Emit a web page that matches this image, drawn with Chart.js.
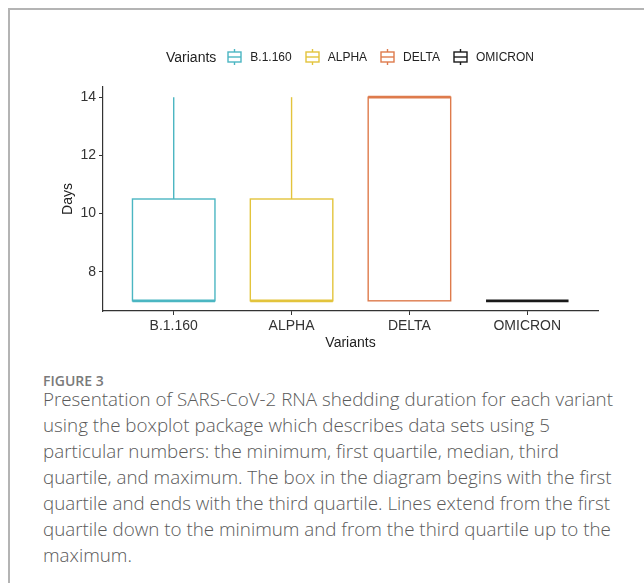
<!DOCTYPE html>
<html>
<head>
<meta charset="utf-8">
<script src="https://cdn.jsdelivr.net/npm/chart.js@4.4.0/dist/chart.umd.min.js"></script>
<style>
  body { margin: 0; background: #fff; width: 644px; height: 583px; overflow: hidden; position: relative; }
  .frame { position: absolute; left: 8px; top: 8px; width: 640px; height: 580px; border-top: 2px solid #b4b4b4; border-left: 2px solid #b4b4b4; }
  .chart-box { position: absolute; left: 0; top: 0; width: 644px; height: 370px; }
  .legenda { position: absolute; top: 49px; left: 0; width: 700px; display: flex; justify-content: center; align-items: center;
             font-family: "Liberation Sans", Arial, sans-serif; color: #222; }
  .legenda .titulo { font-size: 14px; margin-right: 11px; }
  .legenda .item { display: flex; align-items: center; font-size: 12px; margin-right: 13px; }
  .legenda .item svg { margin-right: 8px; }
  .legenda .item:last-child { margin-right: 0; }
  .fig { position: absolute; left: 43px; top: 371px; font-family: "Open Sans", sans-serif; font-size: 14px; font-weight: 600; color: #7a7a7a; }
  .legenda-fig { position: absolute; left: 43px; top: 386px; white-space: nowrap; font-family: "Open Sans", sans-serif; font-weight: 300; font-size: 18.8px; line-height: 26px; color: #5a5a5a; }
</style>
</head>
<body>
<div class="frame"></div>
<div class="chart-box"><canvas id="grafico"></canvas></div>
<div class="legenda" id="legenda"><span class="titulo">Variants</span></div>
<div class="fig">FIGURE 3</div>
<div class="legenda-fig">Presentation of SARS-CoV-2 RNA shedding duration for each variant<br>using the boxplot package which describes data sets using 5<br>particular numbers: the minimum, first quartile, median, third<br>quartile, and maximum. The box in the diagram begins with the first<br>quartile and ends with the third quartile. Lines extend from the first<br>quartile down to the minimum and from the third quartile up to the<br>maximum.</div>

<script>
// dados (dias)
const variantes = ['B.1.160', 'ALPHA', 'DELTA', 'OMICRON'];
const minimos = [7, 7, 7, 7];
const q1 = [7, 7, 7, 7];
const medianas = [7, 7, 14, 7];
const q3 = [10.5, 10.5, 14, 7];
const maximos = [14, 14, 14, 7];
const cores = ['#4bb6c2', '#e3c43c', '#de7b4c', '#1a1a1a'];
const ticksY = [8, 10, 12, 14];

// legenda em html com o simbolo do boxplot
const legenda = document.getElementById('legenda');
variantes.forEach((nome, i) => {
    const item = document.createElement('span');
    item.className = 'item';
    item.innerHTML = `<svg width="15" height="16" viewBox="0 0 15 16">
        <line x1="7.5" y1="0" x2="7.5" y2="3" stroke="${cores[i]}" stroke-width="1.4"/>
        <rect x="1" y="3" width="13" height="10" fill="none" stroke="${cores[i]}" stroke-width="1.4"/>
        <line x1="1" y1="8" x2="14" y2="8" stroke="${cores[i]}" stroke-width="1.4"/>
        <line x1="7.5" y1="13" x2="7.5" y2="16" stroke="${cores[i]}" stroke-width="1.4"/>
    </svg>${nome}`;
    legenda.appendChild(item);
});

const larguraCaixa = 0.7;

const boxplot = {
    id: 'boxplot',
    afterDatasetsDraw(chart) {
        const ctx = chart.ctx;
        const x = chart.scales.x;
        const y = chart.scales.y;
        variantes.forEach((nome, i) => {
            const xc = x.getPixelForValue(i);
            const xl = x.getPixelForValue(i - larguraCaixa / 2);
            const xr = x.getPixelForValue(i + larguraCaixa / 2);
            const yMin = y.getPixelForValue(minimos[i]);
            const yQ1 = y.getPixelForValue(q1[i]);
            const yMed = y.getPixelForValue(medianas[i]);
            const yQ3 = y.getPixelForValue(q3[i]);
            const yMax = y.getPixelForValue(maximos[i]);
            ctx.save();
            ctx.strokeStyle = cores[i];
            ctx.lineWidth = 1.4;
            // bigodes
            ctx.beginPath();
            ctx.moveTo(xc, yQ3); ctx.lineTo(xc, yMax);
            ctx.moveTo(xc, yQ1); ctx.lineTo(xc, yMin);
            ctx.stroke();
            // caixa
            if (q3[i] > q1[i]) {
                ctx.strokeRect(xl, yQ3, xr - xl, yQ1 - yQ3);
            }
            // mediana
            ctx.lineWidth = 2.8;
            ctx.beginPath();
            ctx.moveTo(xl, yMed); ctx.lineTo(xr, yMed);
            ctx.stroke();
            ctx.restore();
        });
    }
};

const fonte = { family: '"Liberation Sans", Arial, sans-serif', size: 14 };

new Chart(document.getElementById('grafico'), {
    type: 'scatter',
    data: { datasets: [] },
    options: {
        responsive: true,
        maintainAspectRatio: false,
        animation: false,
        layout: { padding: { top: 87, left: 43, right: 46, bottom: 11 } },
        plugins: { legend: { display: false }, tooltip: { enabled: false } },
        scales: {
            x: {
                type: 'linear',
                min: -0.6,
                max: 3.6,
                afterBuildTicks: s => { s.ticks = variantes.map((v, i) => ({ value: i })); },
                afterFit: s => { s.height = 48; },
                ticks: { color: '#333', font: fonte, padding: 3, maxRotation: 0,
                         callback: v => variantes[v] },
                grid: { drawOnChartArea: false, drawTicks: true, tickLength: 4, color: '#333' },
                border: { display: true, color: '#333', width: 1.2 },
                title: { display: true, text: 'Variants', color: '#222', font: fonte, padding: { top: 0, bottom: 7 } }
            },
            y: {
                min: 6.65,
                max: 14.35,
                afterBuildTicks: s => { s.ticks = ticksY.map(v => ({ value: v })); },
                afterFit: s => { s.width = 60; },
                ticks: { color: '#333', font: fonte, padding: 3 },
                grid: { drawOnChartArea: false, drawTicks: true, tickLength: 4, color: '#333' },
                border: { display: true, color: '#333', width: 1.2 },
                title: { display: true, text: 'Days', color: '#222', font: fonte, padding: { top: 17, bottom: 0 } }
            }
        }
    },
    plugins: [boxplot]
});
</script>
</body>
</html>
